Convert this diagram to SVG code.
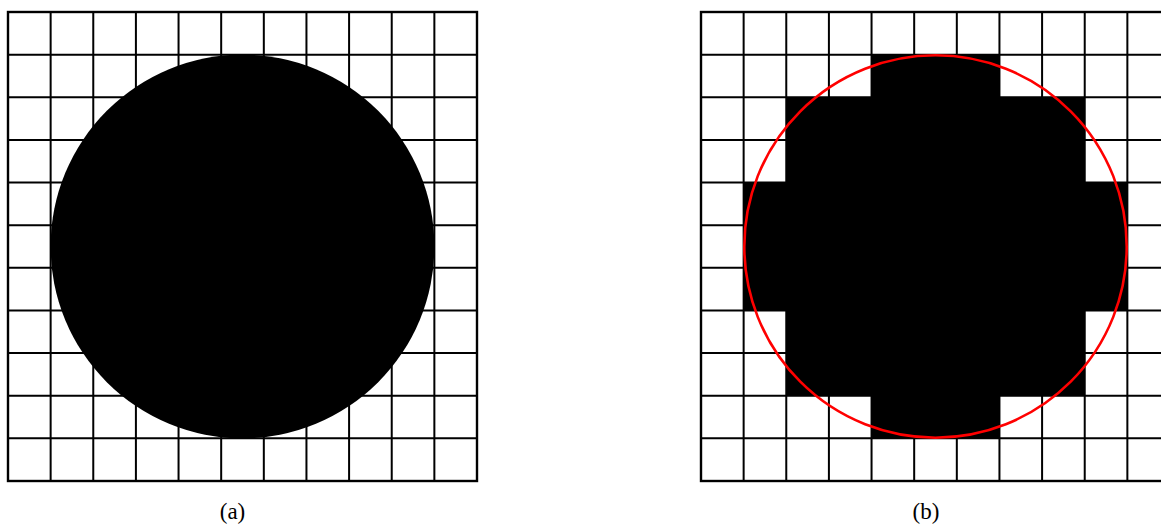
<svg xmlns="http://www.w3.org/2000/svg" width="1161" height="524" viewBox="0 0 1161 524">
<defs>
<style>
.grid{fill:none;stroke:#000;stroke-width:2}
.border{fill:none;stroke:#000;stroke-width:2.4}
.lbl{font-family:"Liberation Serif","DejaVu Serif",serif;font-size:23px;fill:#000;text-anchor:middle}
</style>
</defs>
<rect width="1161" height="524" fill="#fff"/>
<g id="panel-a">
<path class="grid" d="M50.64 12V481M93.27 12V481M135.91 12V481M178.55 12V481M221.18 12V481M263.82 12V481M306.45 12V481M349.09 12V481M391.73 12V481M434.36 12V481M8 54.64H477M8 97.27H477M8 139.91H477M8 182.55H477M8 225.18H477M8 267.82H477M8 310.45H477M8 353.09H477M8 395.73H477M8 438.36H477"/>
<rect class="border" x="8" y="12" width="469" height="469"/>
<circle cx="242.5" cy="246.5" r="191.9" fill="#000"/>
<text class="lbl" x="232.5" y="519">(a)</text>
</g>
<g id="panel-b">
<path class="grid" d="M743.64 12V481M786.27 12V481M828.91 12V481M871.55 12V481M914.18 12V481M956.82 12V481M999.45 12V481M1042.09 12V481M1084.73 12V481M1127.36 12V481M701 54.64H1170M701 97.27H1170M701 139.91H1170M701 182.55H1170M701 225.18H1170M701 267.82H1170M701 310.45H1170M701 353.09H1170M701 395.73H1170M701 438.36H1170"/>
<rect class="border" x="701" y="12" width="469" height="469"/>
<path fill="#000" d="M871.55 54.64H999.45V97.27H1084.73V182.55H1127.36V310.45H1084.73V395.73H999.45V438.36H871.55V395.73H786.27V310.45H743.64V182.55H786.27V97.27H871.55Z"/>
<circle cx="935.5" cy="246.5" r="191.2" fill="none" stroke="#f00" stroke-width="2.6"/>
<text class="lbl" x="926" y="519">(b)</text>
</g>
</svg>
